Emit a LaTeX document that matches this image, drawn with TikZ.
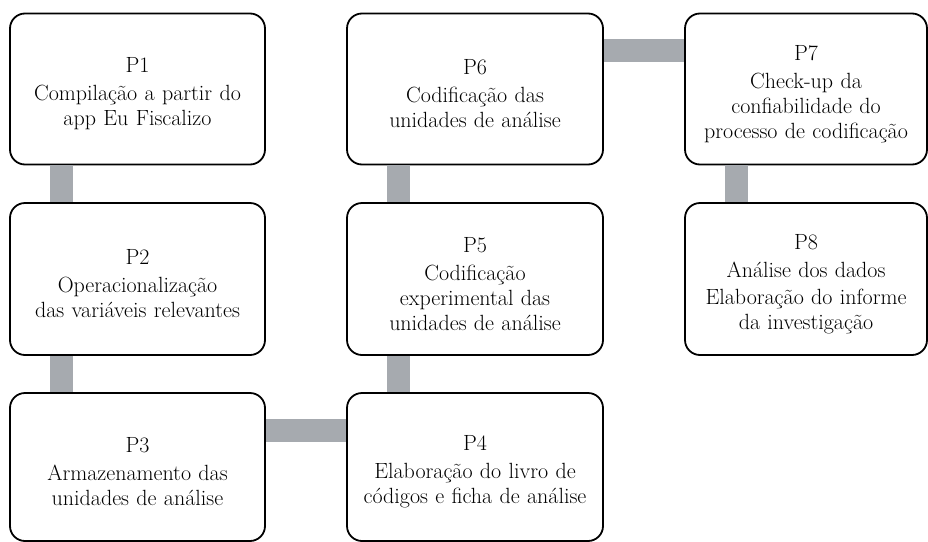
\documentclass[tikz,border=0pt]{standalone}
\usepackage{fontspec}
\definecolor{conncol}{RGB}{166,170,175}
\begin{document}
\begin{tikzpicture}[x=1pt,y=-1pt,
  stepbox/.style={draw=black, line width=1.8pt, rounded corners=15pt, fill=white,
    minimum width=255pt, minimum height=151pt, inner sep=0pt,
    text width=248pt, align=center, font=\fontsize{22}{25}\selectfont,
    execute at begin node={\rule{0pt}{25pt}}},
  conn/.style={draw=conncol, line width=23pt}]
\useasboundingbox (0,0) rectangle (928,541);
\node[stepbox] (P1) at (137.5,89) {P1\\[3pt]Compilação a partir do\\app Eu Fiscalizo};
\node[stepbox, minimum height=152pt] (P2) at (137.5,279) {P2\\[3pt]Operacionalização\\das variáveis relevantes};
\node[stepbox, minimum height=148pt] (P3) at (137.5,467) {P3\\[3pt]Armazenamento das\\unidades de análise};
\node[stepbox, minimum width=256pt, minimum height=148pt] (P4) at (475,467) {P4\\[3pt]Elaboração do livro de\\códigos e ficha de análise};
\node[stepbox, minimum width=256pt, minimum height=152pt] (P5) at (475,279) {P5\\[3pt]Codificação\\experimental das\\unidades de análise};
\node[stepbox, minimum width=256pt] (P6) at (475,89) {P6\\[3pt]Codificação das\\unidades de análise};
\node[stepbox, minimum width=242pt, text width=238pt] (P7) at (806,89) {P7\\[3pt]Check-up da\\confiabilidade do\\processo de codificação};
\node[stepbox, minimum width=242pt, minimum height=152pt, text width=238pt] (P8) at (806,279) {P8\\[3pt]Análise dos dados\\[2pt]Elaboração do informe\\da investigação};
\draw[conn] ([xshift=52pt]P1.south west) -- ([xshift=52pt]P2.north west);
\draw[conn] ([xshift=52pt]P2.south west) -- ([xshift=52pt]P3.north west);
\draw[conn] ([yshift=-38pt]P3.north east) -- ([yshift=-38pt]P4.north west);
\draw[conn] ([xshift=52pt]P4.north west) -- ([xshift=52pt]P5.south west);
\draw[conn] ([xshift=52pt]P5.north west) -- ([xshift=52pt]P6.south west);
\draw[conn] ([yshift=-38pt]P6.north east) -- ([yshift=-38pt]P7.north west);
\draw[conn] ([xshift=52pt]P7.south west) -- ([xshift=52pt]P8.north west);
\end{tikzpicture}
\end{document}
